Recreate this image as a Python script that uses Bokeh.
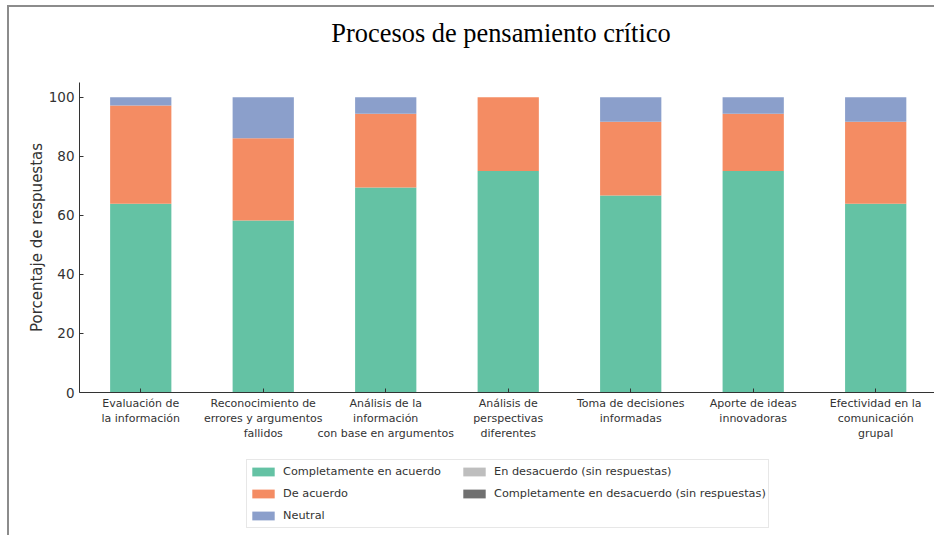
from bokeh.plotting import figure
from bokeh.models import ColumnDataSource, FixedTicker, Range1d, Legend, Label
from bokeh.layouts import column
from bokeh.embed import file_html
from bokeh.resources import INLINE

categories = [
    "Evaluación de\nla información",
    "Reconocimiento de\nerrores y argumentos\nfallidos",
    "Análisis de la\ninformación\ncon base en argumentos",
    "Análisis de\nperspectivas\ndiferentes",
    "Toma de decisiones\ninformadas",
    "Aporte de ideas\ninnovadoras",
    "Efectividad en la\ncomunicación\ngrupal",
]
completamente_acuerdo = [63.9, 58.3, 69.4, 75.0, 66.7, 75.0, 63.9]
de_acuerdo = [33.3, 27.8, 25.0, 25.0, 25.0, 19.4, 27.8]
neutral = [2.8, 13.9, 5.6, 0.0, 8.3, 5.6, 8.3]
en_desacuerdo = [0, 0, 0, 0, 0, 0, 0]
completamente_desacuerdo = [0, 0, 0, 0, 0, 0, 0]

title_text = "Procesos de pensamiento crítico"
y_label = "Porcentaje de respuestas"
series_names = ["Completamente en acuerdo", "De acuerdo", "Neutral",
                "En desacuerdo (sin respuestas)",
                "Completamente en desacuerdo (sin respuestas)"]
colors = ["#64c2a4", "#f48c63", "#8b9fcb", "#bebebe", "#707070"]
y_ticks = [0, 20, 40, 60, 80, 100]
stackers = ["s0", "s1", "s2", "s3", "s4"]

W = 925

xs = list(range(len(categories)))
source = ColumnDataSource(dict(
    x=xs,
    s0=completamente_acuerdo,
    s1=de_acuerdo,
    s2=neutral,
    s3=en_desacuerdo,
    s4=completamente_desacuerdo,
))


def strip(height, y_range=(0, 1)):
    f = figure(width=W, height=height, output_backend="svg", toolbar_location=None,
               x_range=Range1d(-0.5, 6.48), y_range=Range1d(*y_range),
               x_axis_location=None, y_axis_location=None,
               min_border=0, min_border_left=0, min_border_right=0,
               min_border_top=0, min_border_bottom=0)
    f.outline_line_color = None
    f.grid.visible = False
    return f


# ---- title strip ----
tf = strip(65)
tf.add_layout(Label(x=421.5, y=40, x_units="screen", y_units="screen",
                    text=title_text, text_font="Liberation Serif",
                    text_font_size="26.4px", text_color="#000000",
                    text_align="center", text_baseline="alphabetic"))

# ---- main chart ----
p = figure(width=W, height=380, output_backend="svg", toolbar_location=None,
           x_range=Range1d(-0.5, 6.48), y_range=Range1d(0, 105),
           min_border_left=70, min_border_right=0, min_border_top=10,
           min_border_bottom=60)

p.vbar_stack(stackers, x="x", width=0.5, source=source, color=colors,
             line_color=None)

p.outline_line_color = None
p.grid.visible = False
p.background_fill_color = "white"

xa = p.xaxis[0]
xa.ticker = FixedTicker(ticks=xs)
xa.major_label_overrides = {i: c for i, c in zip(xs, categories)}
xa.major_label_text_font = "DejaVu Sans"
xa.major_label_text_font_size = "11px"
xa.major_label_text_color = "#333333"
xa.major_label_text_line_height = 1.17
xa.major_label_standoff = 4
xa.major_tick_in = 4
xa.major_tick_out = 0
xa.minor_tick_line_color = None
xa.axis_line_color = "#333333"
xa.major_tick_line_color = "#333333"

ya = p.yaxis[0]
ya.ticker = FixedTicker(ticks=y_ticks)
ya.major_label_text_font = "DejaVu Sans"
ya.major_label_text_font_size = "13.5px"
ya.major_label_text_color = "#333333"
ya.major_label_standoff = 5
ya.major_tick_in = 4
ya.major_tick_out = 0
ya.minor_tick_line_color = None
ya.axis_line_color = "#333333"
ya.major_tick_line_color = "#333333"
ya.axis_label = y_label
ya.axis_label_text_font = "DejaVu Sans"
ya.axis_label_text_font_size = "15px"
ya.axis_label_text_font_style = "normal"
ya.axis_label_text_color = "#333333"
ya.axis_label_standoff = 0

# ---- legend strip (stack drawn out of view; only its legend shows) ----
lf = strip(83, y_range=(1000, 1001))
legend_renderers = lf.vbar_stack(stackers, x="x", width=0.5, source=source,
                                 color=colors, line_color=None)
legend = Legend(items=[(name, [r]) for name, r in zip(series_names, legend_renderers)],
                location=(167, 7), orientation="vertical", nrows=3)
legend.label_text_font = "DejaVu Sans"
legend.label_text_font_size = "11.3px"
legend.label_text_color = "#333333"
legend.glyph_width = 28
legend.glyph_height = 11
legend.label_height = 19
legend.label_width = 174
legend.label_standoff = 6
legend.spacing = 3
legend.padding = 2
legend.margin = 0
legend.border_line_color = "#d0d0d0"
legend.border_line_width = 1
legend.background_fill_color = "white"
legend.background_fill_alpha = 1
lf.add_layout(legend, "center")

layout = column(tf, p, lf, spacing=0)
layout.styles = {"margin-top": "5px", "margin-left": "7px",
                 "border-top": "2px solid #8c8c8c", "border-left": "2px solid #8c8c8c"}

open("out.html", "w").write(file_html(layout, INLINE))
